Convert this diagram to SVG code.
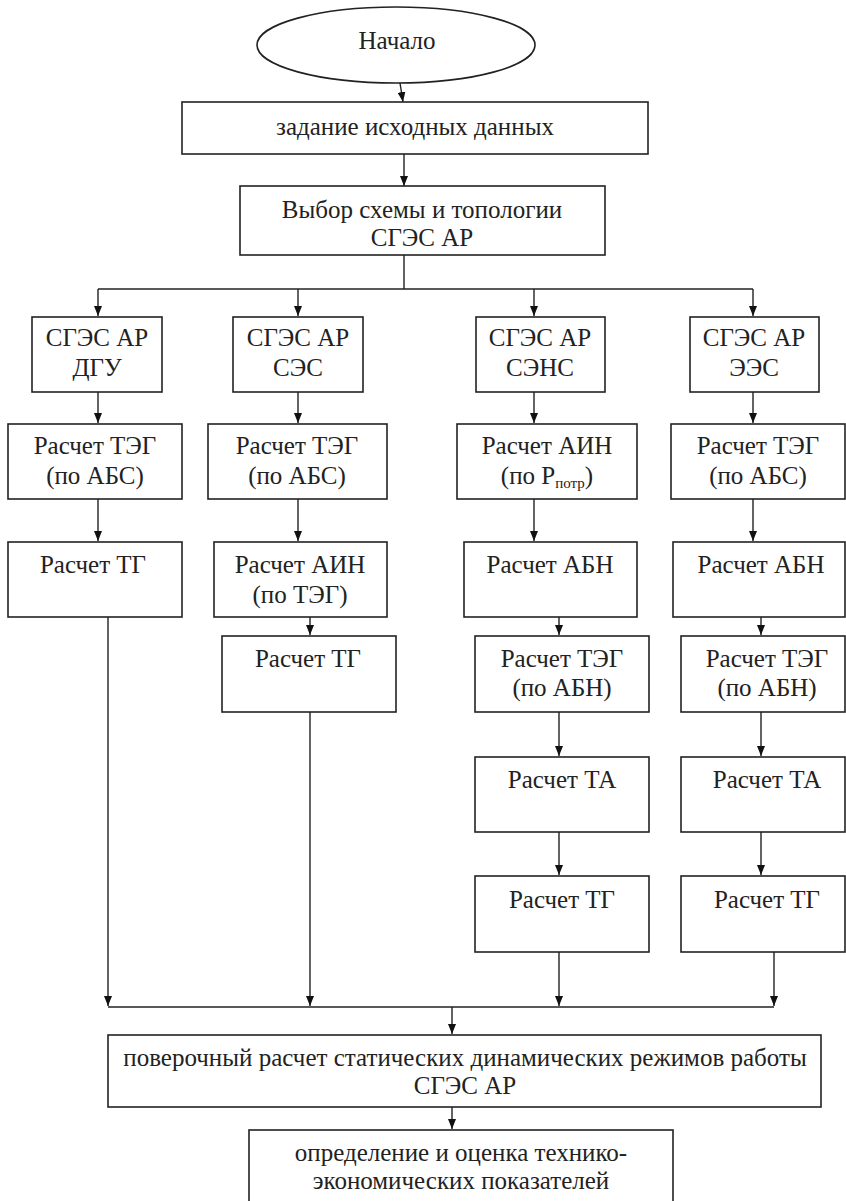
<svg xmlns="http://www.w3.org/2000/svg" width="846" height="1201" viewBox="0 0 846 1201">
<defs>
<marker id="ah" viewBox="0 0 10 8" refX="10" refY="4" markerWidth="10" markerHeight="8" markerUnits="userSpaceOnUse" orient="auto">
<path d="M0,0 L10,4 L0,8 Z" fill="#111"/>
</marker>
</defs>
<style>
.b{fill:#fff;stroke:#222;stroke-width:1.6}
.t{font-family:'Liberation Serif','Times New Roman','DejaVu Serif',serif;font-size:25px;fill:#222;text-anchor:middle}
.c{fill:none;stroke:#222;stroke-width:1.4}
.a{fill:none;stroke:#222;stroke-width:1.4;marker-end:url(#ah)}
.s{font-size:15px}
</style>
<rect width="846" height="1201" fill="#fff"/>
<g id="connectors">
<path class="a" d="M400,83 L403,102"/>
<path class="a" d="M404,154 L404,186"/>
<path class="c" d="M404,255 L404,289"/>
<path class="c" d="M98,289 L753,289"/>
<path class="a" d="M98,289 L98,316"/>
<path class="a" d="M298,289 L298,316"/>
<path class="a" d="M534,289 L534,316"/>
<path class="a" d="M753,289 L753,316"/>
<path class="a" d="M98,392 L98,423"/>
<path class="a" d="M298,392 L298,423"/>
<path class="a" d="M534,392 L534,423"/>
<path class="a" d="M753,392 L753,423"/>
<path class="a" d="M98,499 L98,541"/>
<path class="a" d="M298,499 L298,541"/>
<path class="a" d="M534,499 L534,541"/>
<path class="a" d="M753,499 L753,541"/>
<path class="a" d="M310,612 L310,635"/>
<path class="a" d="M559,609 L559,635"/>
<path class="a" d="M761,612 L761,635"/>
<path class="a" d="M559,712 L559,756"/>
<path class="a" d="M761,712 L761,756"/>
<path class="a" d="M559,832 L559,875"/>
<path class="a" d="M761,832 L761,875"/>
<path class="a" d="M108,617 L108,1006"/>
<path class="a" d="M310,712 L310,1006"/>
<path class="a" d="M559,952 L559,1006"/>
<path class="a" d="M774,952 L774,1006"/>
<path class="c" d="M108,1007 L774,1007"/>
<path class="a" d="M452,1007 L452,1034"/>
<path class="a" d="M452,1103 L452,1129"/>
</g>
<g font-family="'Liberation Serif','Times New Roman',serif">
<g id="start">
<ellipse class="b" cx="396" cy="45" rx="139" ry="38"/>
<text class="t" x="397" y="49">Начало</text>
</g>
<g id="input">
<rect class="b" x="182" y="102" width="466" height="52"/>
<text class="t" x="415" y="135">задание исходных данных</text>
</g>
<g id="choice">
<rect class="b" x="240" y="186" width="365" height="69"/>
<text class="t" x="422" y="218">Выбор схемы и топологии</text>
<text class="t" x="422" y="246">СГЭС АР</text>
</g>
<g id="dgu">
<rect class="b" x="32" y="317" width="130" height="75"/>
<text class="t" x="97" y="346">СГЭС АР</text>
<text class="t" x="97" y="376">ДГУ</text>
</g>
<g id="ses">
<rect class="b" x="233" y="317" width="130" height="75"/>
<text class="t" x="298" y="346">СГЭС АР</text>
<text class="t" x="298" y="376">СЭС</text>
</g>
<g id="sens">
<rect class="b" x="476" y="317" width="129" height="75"/>
<text class="t" x="540" y="346">СГЭС АР</text>
<text class="t" x="540" y="376">СЭНС</text>
</g>
<g id="ees">
<rect class="b" x="690" y="317" width="129" height="75"/>
<text class="t" x="754" y="346">СГЭС АР</text>
<text class="t" x="754" y="376">ЭЭС</text>
</g>
<g id="dgu-teg">
<rect class="b" x="8" y="424" width="174" height="75"/>
<text class="t" x="95" y="454">Расчет ТЭГ</text>
<text class="t" x="95" y="484">(по АБС)</text>
</g>
<g id="ses-teg">
<rect class="b" x="208" y="424" width="179" height="75"/>
<text class="t" x="297" y="454">Расчет ТЭГ</text>
<text class="t" x="297" y="484">(по АБС)</text>
</g>
<g id="sens-ain">
<rect class="b" x="457" y="424" width="180" height="75"/>
<text class="t" x="547" y="454">Расчет АИН</text>
<text class="t" x="547" y="484">(по P<tspan class="s" dy="4">потр</tspan><tspan dy="-4">)</tspan></text>
</g>
<g id="ees-teg">
<rect class="b" x="671" y="424" width="174" height="75"/>
<text class="t" x="758" y="454">Расчет ТЭГ</text>
<text class="t" x="758" y="484">(по АБС)</text>
</g>
<g id="dgu-tg">
<rect class="b" x="8" y="542" width="174" height="75"/>
<text class="t" x="93" y="573">Расчет ТГ</text>
</g>
<g id="ses-ain">
<rect class="b" x="214" y="542" width="173" height="75"/>
<text class="t" x="300" y="573">Расчет АИН</text>
<text class="t" x="300" y="603">(по ТЭГ)</text>
</g>
<g id="sens-abn">
<rect class="b" x="464" y="542" width="173" height="75"/>
<text class="t" x="550" y="573">Расчет АБН</text>
</g>
<g id="ees-abn">
<rect class="b" x="673" y="542" width="172" height="75"/>
<text class="t" x="761" y="573">Расчет АБН</text>
</g>
<g id="ses-tg">
<rect class="b" x="222" y="636" width="174" height="76"/>
<text class="t" x="308" y="667">Расчет ТГ</text>
</g>
<g id="sens-teg">
<rect class="b" x="475" y="636" width="174" height="76"/>
<text class="t" x="562" y="667">Расчет ТЭГ</text>
<text class="t" x="562" y="696">(по АБН)</text>
</g>
<g id="ees-teg2">
<rect class="b" x="681" y="636" width="164" height="76"/>
<text class="t" x="767" y="667">Расчет ТЭГ</text>
<text class="t" x="767" y="696">(по АБН)</text>
</g>
<g id="sens-ta">
<rect class="b" x="475" y="757" width="174" height="75"/>
<text class="t" x="562" y="788">Расчет ТА</text>
</g>
<g id="ees-ta">
<rect class="b" x="681" y="757" width="164" height="75"/>
<text class="t" x="767" y="788">Расчет ТА</text>
</g>
<g id="sens-tg">
<rect class="b" x="475" y="876" width="174" height="76"/>
<text class="t" x="562" y="908">Расчет ТГ</text>
</g>
<g id="ees-tg">
<rect class="b" x="681" y="876" width="164" height="76"/>
<text class="t" x="767" y="908">Расчет ТГ</text>
</g>
<g id="check">
<rect class="b" x="108" y="1035" width="713" height="72"/>
<text class="t" x="465" y="1066">поверочный расчет статических динамических режимов работы</text>
<text class="t" x="465" y="1094">СГЭС АР</text>
</g>
<g id="result">
<rect class="b" x="249" y="1130" width="424" height="80"/>
<text class="t" x="461" y="1161">определение и оценка технико-</text>
<text class="t" x="461" y="1189">экономических показателей</text>
</g>
</g>
</svg>
